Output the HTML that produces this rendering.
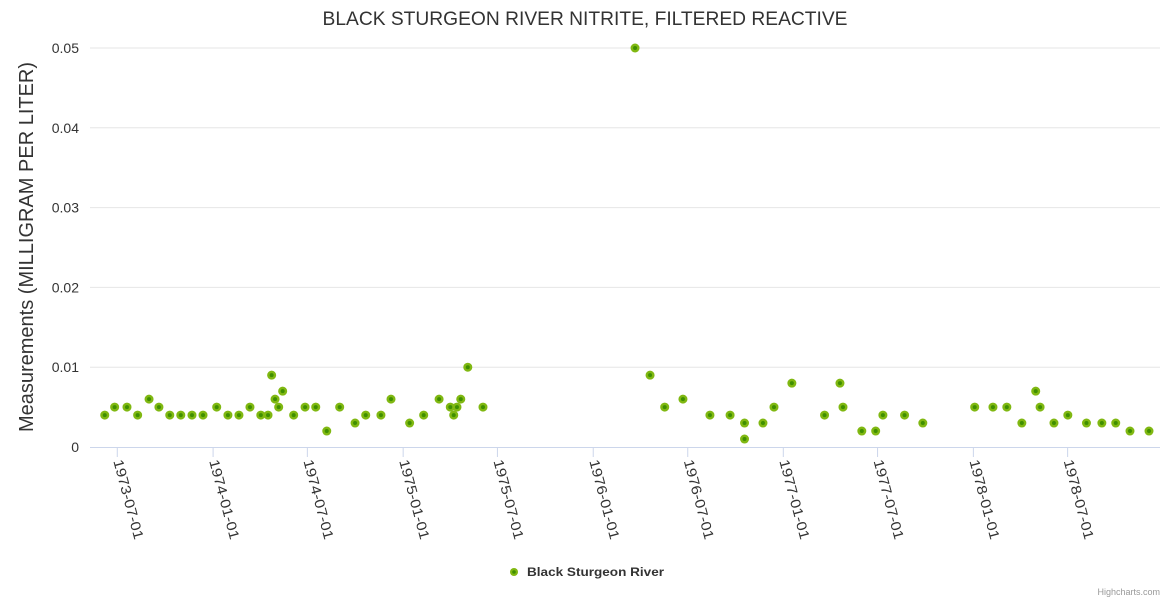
<!DOCTYPE html>
<html><head><meta charset="utf-8"><style>
html,body{margin:0;padding:0;background:#fff;}
svg{display:block;font-family:"Liberation Sans",sans-serif;}
</style></head><body>
<svg id="chart" width="1170" height="600" xmlns="http://www.w3.org/2000/svg">
<rect width="1170" height="600" fill="#fff"/>
<text x="585" y="25" text-anchor="middle" font-size="19" textLength="525" lengthAdjust="spacingAndGlyphs" fill="#333">BLACK STURGEON RIVER NITRITE, FILTERED REACTIVE</text>
<text transform="translate(33,247) rotate(-90)" text-anchor="middle" font-size="20" fill="#333">Measurements (MILLIGRAM PER LITER)</text>
<g id="grid"></g><g id="xaxis"></g><g id="points"></g>
<g>
<circle cx="514" cy="572" r="4" fill="#80b812"/>
<circle cx="514" cy="572" r="1.8" fill="#3f8f00"/>
<text x="527" y="576" font-size="12" font-weight="bold" textLength="137" lengthAdjust="spacingAndGlyphs" fill="#333">Black Sturgeon River</text>
</g>
<text x="1160" y="595" text-anchor="end" font-size="9" fill="#999">Highcharts.com</text>
</svg>
<script>
const xYears = [1973.430,1973.482,1973.547,1973.603,1973.663,1973.715,1973.772,1973.830,1973.889,1973.947,1974.019,1974.078,1974.136,1974.194,1974.251,1974.289,1974.308,1974.326,1974.345,1974.366,1974.424,1974.484,1974.540,1974.598,1974.666,1974.747,1974.803,1974.883,1974.936,1975.034,1975.108,1975.189,1975.248,1975.266,1975.283,1975.303,1975.340,1975.420,1976.220,1976.299,1976.376,1976.472,1976.614,1976.720,1976.796,1976.796,1976.893,1976.951,1977.045,1977.217,1977.298,1977.314,1977.413,1977.486,1977.524,1977.638,1977.734,1978.007,1978.103,1978.176,1978.255,1978.328,1978.351,1978.424,1978.497,1978.595,1978.676,1978.749,1978.824,1978.924];
const values = [0.004,0.005,0.005,0.004,0.006,0.005,0.004,0.004,0.004,0.004,0.005,0.004,0.004,0.005,0.004,0.004,0.009,0.006,0.005,0.007,0.004,0.005,0.005,0.002,0.005,0.003,0.004,0.004,0.006,0.003,0.004,0.006,0.005,0.004,0.005,0.006,0.010,0.005,0.050,0.009,0.005,0.006,0.004,0.004,0.003,0.001,0.003,0.005,0.008,0.004,0.008,0.005,0.002,0.002,0.004,0.004,0.003,0.005,0.005,0.005,0.003,0.007,0.005,0.003,0.004,0.003,0.003,0.003,0.002,0.002];
const xTickLabels = ["1973-07-01","1974-01-01","1974-07-01","1975-01-01","1975-07-01","1976-01-01","1976-07-01","1977-01-01","1977-07-01","1978-01-01","1978-07-01"];
const yTicks = [0,0.01,0.02,0.03,0.04,0.05];
const yTickLabels = ["0","0.01","0.02","0.03","0.04","0.05"];

const NS="http://www.w3.org/2000/svg";
const X0=117.3, Y0YR=1973.496, PXYR=190.07;
function xScale(yr){return X0+(yr-Y0YR)*PXYR;}
function yScale(v){return 447-v*7980;}
function dateToYear(s){const p=s.split('-').map(Number);const a=Date.UTC(p[0],0,1),b=Date.UTC(p[0]+1,0,1);return p[0]+(Date.UTC(p[0],p[1]-1,p[2])-a)/(b-a);}
function mk(tag,attrs,parent){const e=document.createElementNS(NS,tag);for(const k in attrs)e.setAttribute(k,attrs[k]);parent.appendChild(e);return e;}
const grid=document.getElementById('grid'),xa=document.getElementById('xaxis'),pts=document.getElementById('points');
yTicks.forEach((v,i)=>{
  const y=yScale(v);
  if(i>0){const l=mk('line',{x1:90,x2:1160,y1:y,y2:y,stroke:'#e6e6e6','stroke-width':1},grid);
  
  }
  const t=mk('text',{x:79,y:y+5,'text-anchor':'end','font-size':14,fill:'#333'},grid);
  t.textContent=yTickLabels[i];
  
  
});
const ax=mk('line',{x1:90,x2:1160,y1:447.5,y2:447.5,stroke:'#ccd6eb','stroke-width':1},xa);


xTickLabels.forEach(s=>{
  const x=xScale(dateToYear(s));
  const tk=mk('line',{x1:x,x2:x,y1:447,y2:457,stroke:'#ccd6eb','stroke-width':1},xa);
  
  
  const t=mk('text',{transform:`translate(${x-4},${461}) rotate(75)`,'font-size':14,textLength:82,lengthAdjust:'spacingAndGlyphs',fill:'#333'},xa);
  t.textContent=s;
  
  
});
xYears.forEach((yr,i)=>{
  const cx=xScale(yr),cy=yScale(values[i]);
  const c=mk('circle',{cx:cx,cy:cy,r:4.5,fill:'#80b812'},pts);
  
  
  const d=mk('circle',{cx:cx,cy:cy,r:2,fill:'#3f8f00'},pts);
  
  
});
</script>
</body></html>
